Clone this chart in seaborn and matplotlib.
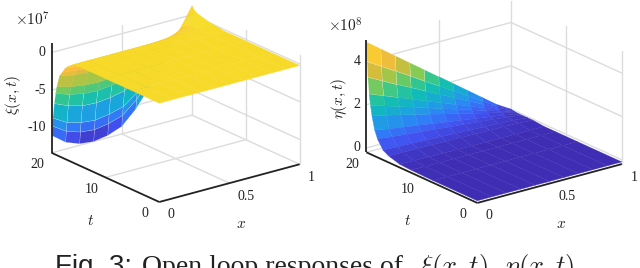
import matplotlib
matplotlib.use("Agg")
import matplotlib.pyplot as plt
import numpy as np
import seaborn as sns
from mpl_toolkits.mplot3d import proj3d

sns.set_theme(style="white")
plt.rcParams["font.family"] = ["Liberation Serif", "DejaVu Serif"]
plt.rcParams["mathtext.fontset"] = "cm"

# parula-like anchors
parula_colors = ["#3e26a8", "#4250f0", "#2f80f8", "#1ba4de", "#0fbcb8", "#35c78d", "#8ccb4f", "#d4bc3c", "#fcbd3c", "#f7d82a", "#f9fb15"]
parula = sns.blend_palette(parula_colors, n_colors=256, as_cmap=True)

xi_x = [0, 0.1, 0.2, 0.3, 0.4, 0.5, 0.6, 0.7, 0.8, 0.9, 1]
xi_t = [0, 5, 10, 14, 16, 17, 17.5, 18, 18.5, 19, 19.25, 19.5, 19.75, 19.875, 20]
xi_z = [
    [-0.2, -0.2, -0.2, -0.2, -0.2, -0.2, -0.2, -0.2, -0.2, -0.2, -0.2],
    [-0.2, -0.2, -0.2, -0.2, -0.2, -0.2, -0.2, -0.2, -0.2, -0.2, -0.2],
    [-0.2, -0.2, -0.2, -0.2, -0.2, -0.2, -0.2, -0.2, -0.2, -0.2, -0.2],
    [-0.2, -0.2, -0.2, -0.2, -0.2, -0.2, -0.2, -0.2, -0.2, -0.2, -0.2],
    [-0.3, -0.3, -0.3, -0.3, -0.3, -0.3, -0.3, -0.3, -0.3, -0.2, 0.0],
    [-0.9, -0.9, -0.9, -0.9, -0.9, -0.9, -0.8, -0.7, -0.5, -0.3, 0.1],
    [-1.3, -1.5, -1.6, -1.6, -1.6, -1.5, -1.3, -1.0, -0.7, -0.3, 0.2],
    [-2.0, -2.2, -2.4, -2.4, -2.3, -2.2, -1.9, -1.4, -1.0, -0.4, 0.3],
    [-2.6, -3.0, -3.1, -3.2, -3.1, -3.0, -2.5, -1.9, -1.3, -0.5, 0.4],
    [-4.2, -4.7, -5.0, -5.1, -4.9, -4.7, -4.0, -3.0, -2.1, -0.8, 0.5],
    [-5.2, -5.8, -6.2, -6.3, -6.1, -5.8, -4.9, -3.8, -2.6, -0.9, 0.6],
    [-6.6, -7.4, -7.9, -8.0, -7.8, -7.4, -6.3, -4.8, -3.3, -1.2, 0.7],
    [-8.6, -9.7, -10.2, -10.4, -10.1, -9.6, -8.2, -6.2, -4.3, -1.6, 0.9],
    [-9.7, -10.9, -11.5, -11.7, -11.4, -10.8, -9.2, -7.0, -4.8, -1.8, 1.0],
    [-11.0, -12.4, -13.1, -13.3, -13.0, -12.3, -10.5, -8.0, -5.5, -2.0, 1.2],
]

eta_x = [0, 0.1, 0.2, 0.3, 0.4, 0.5, 0.6, 0.7, 0.8, 0.9, 1]
eta_t = [0, 8, 12, 14, 16, 17, 18, 18.5, 19, 19.25, 19.5, 19.75, 19.875, 20]
eta_z = [
    [-0.1, -0.1, -0.1, -0.1, -0.1, -0.1, -0.1, -0.1, -0.1, -0.1, -0.1],
    [-0.1, -0.1, -0.1, -0.1, -0.1, -0.1, -0.1, -0.1, -0.1, -0.1, -0.1],
    [-0.08, -0.1, -0.1, -0.1, -0.1, -0.1, -0.1, -0.1, -0.1, -0.1, -0.1],
    [-0.05, -0.06, -0.07, -0.08, -0.09, -0.1, -0.1, -0.1, -0.1, -0.1, -0.1],
    [0.1, 0.09, 0.08, 0.07, 0.06, 0.05, 0.04, 0.03, 0.02, 0.0, -0.05],
    [0.25, 0.22, 0.2, 0.17, 0.15, 0.12, 0.1, 0.07, 0.05, 0.02, -0.05],
    [0.65, 0.57, 0.51, 0.44, 0.38, 0.31, 0.25, 0.18, 0.12, 0.05, -0.05],
    [1.0, 0.88, 0.78, 0.68, 0.58, 0.48, 0.38, 0.28, 0.18, 0.08, -0.05],
    [1.6, 1.45, 1.29, 1.12, 0.96, 0.79, 0.63, 0.46, 0.3, 0.13, -0.05],
    [2.05, 1.85, 1.64, 1.43, 1.22, 1.0, 0.8, 0.59, 0.38, 0.17, -0.04],
    [2.55, 2.29, 2.03, 1.77, 1.5, 1.25, 0.99, 0.73, 0.47, 0.21, -0.03],
    [3.3, 2.95, 2.6, 2.28, 1.94, 1.6, 1.27, 0.94, 0.6, 0.27, -0.02],
    [4.0, 3.6, 3.2, 2.8, 2.38, 1.97, 1.56, 1.15, 0.74, 0.33, -0.01],
    [4.9, 4.4, 3.9, 3.4, 2.9, 2.4, 1.9, 1.4, 0.9, 0.4, 0.0],
]

TEXT_COLOR = "#222222"


def put(ax, x, t, z, s, dx=0, dy=0, ha="center"):
    # projected by hand so the label stays a plain 2D annotation
    xp, yp, _ = proj3d.proj_transform(x, t, z, ax.get_proj())
    ax.annotate(s, (xp, yp), xytext=(dx, dy), textcoords="offset pixels",
                ha=ha, va="center", fontsize=10, color=TEXT_COLOR)


def panel(center, zoom, x, t, z, zlim, zticks, zticklabels, mesh_below):
    size = 268
    pos = [(center[0] - size / 2) / 640, (268 - center[1] - size / 2) / 268, size / 640, size / 268]
    ax = fig.add_axes(pos, projection="3d", proj_type="ortho", computed_zorder=False)
    ax.patch.set_alpha(0)
    lo, hi = zlim
    ax.set_xlim(0, 1, view_margin=0)
    ax.set_ylim(0, 20, view_margin=0)
    ax.set_zlim(lo, hi, view_margin=0)
    ax.set_box_aspect((1, 1, 0.66), zoom=zoom)
    ax.view_init(elev=20.5, azim=-127.5)
    ax.set_axis_off()

    grid = dict(color="#dcdcdc", lw=1, zorder=1)
    # walls and floor
    for v in [0.5, 1]:
        ax.plot([v, v], [20, 20], [lo, hi], **grid)
    for v in [10, 0]:
        ax.plot([1, 1], [v, v], [lo, hi], **grid)
    for v in [0.5, 1]:
        ax.plot([v, v], [0, 20], [lo, lo], **grid)
    for v in [10, 20]:
        ax.plot([0, 1], [v, v], [lo, lo], **grid)
    for v in zticks:
        ax.plot([0, 1], [20, 20], [v, v], **grid)
        ax.plot([1, 1], [20, 0], [v, v], **grid)

    X, T = np.meshgrid(x, t)
    surf = ax.plot_surface(X, T, np.array(z), cmap=parula, vmin=lo, vmax=hi,
                           rstride=1, cstride=1, shade=False, linewidth=0.25, antialiased=True, zorder=2)
    # faint white mesh on the steep part, the rest keeps the face colour
    vals = np.asarray(surf.get_array())
    edges = surf.to_rgba(vals)
    edges[mesh_below(vals)] = (1, 1, 1, 0.4)
    surf.set_edgecolor(edges)

    axis = dict(color=TEXT_COLOR, lw=1.3, zorder=3, solid_capstyle="butt")
    ax.plot([0, 0], [20, 20], [lo, hi], **axis)
    ax.plot([0, 1], [0, 0], [lo, lo], **axis)
    ax.plot([0, 0], [0, 20], [lo, lo], **axis)

    for v, s in zip(zticks, zticklabels):
        put(ax, 0, 20, v, s, dx=-6, ha="right")
    for v, s in zip([0, 0.5, 1], ["0", "0.5", "1"]):
        put(ax, v, 0, lo, s, dx=12 + 5 * (v == 0.5), dy=-13)
    for v, s in zip([0, 10, 20], ["0", "10", "20"]):
        put(ax, 0, v, lo, s, dx=-14, dy=-12)
    return ax


def label(px, py, s, **kw):
    fig.text(px / 640, 1 - py / 268, s, ha=kw.pop("ha", "center"), va=kw.pop("va", "center"),
             fontsize=kw.pop("fontsize", 10), color=TEXT_COLOR, **kw)


fig = plt.figure(figsize=(6.4, 2.68), dpi=100)

panel((172, 107.5), 1.0, xi_x, xi_t, xi_z, (-13.3, 1.2), [-10, -5, 0], ["-10", "-5", "0"],
      lambda v: v < -6)
panel((490.5, 105.5), 1.03, eta_x, eta_t, eta_z, (-0.2, 5.0), [0, 2, 4], ["0", "2", "4"],
      lambda v: v > 2.2)

label(32, 20, r"$\times 10^7$", fontsize=11)
label(13, 95, r"$\xi(x,t)$", rotation=90, fontsize=11)
label(241, 225, r"$x$", fontsize=11)
label(91, 221, r"$t$", fontsize=11)

label(345, 26, r"$\times 10^8$", fontsize=11)
label(339, 98, r"$\eta(x,t)$", rotation=90, fontsize=11)
label(561, 225, r"$x$", fontsize=11)
label(408, 221, r"$t$", fontsize=11)

label(55, 274, "Fig. 3:", family="Liberation Sans", fontsize=20, ha="left", va="baseline")
label(142, 274, "Open loop responses of", fontsize=20, ha="left", va="baseline")
label(420, 274, r"$\xi(x,t),$", fontsize=19, ha="left", va="baseline")
label(505, 274, r"$\eta(x,t)$", fontsize=19, ha="left", va="baseline")

fig.savefig("out.png", dpi=100)
